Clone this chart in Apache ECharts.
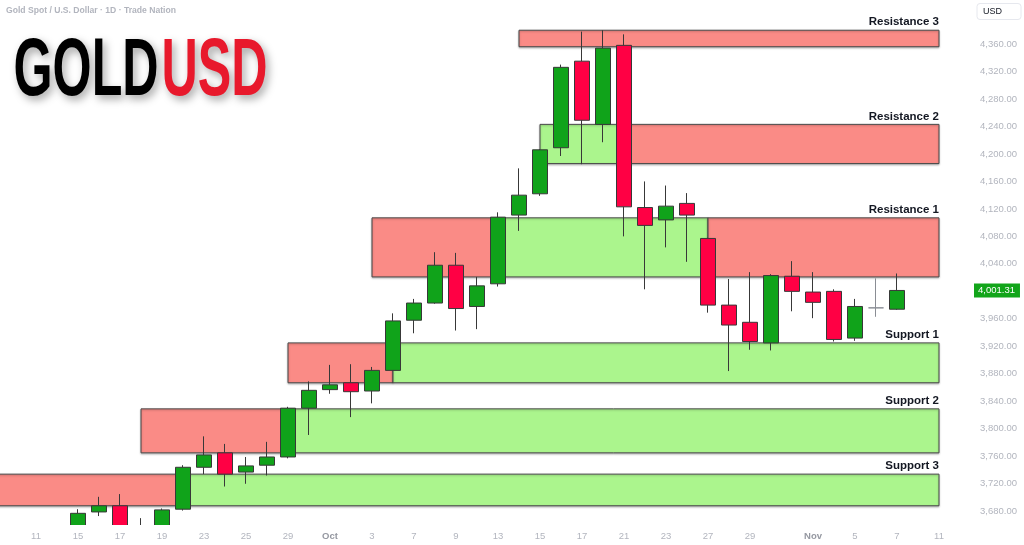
<!DOCTYPE html>
<html>
<head>
<meta charset="utf-8">
<script src="https://cdn.jsdelivr.net/npm/echarts@6/dist/echarts.min.js"></script>
<style>
html,body{margin:0;padding:0;background:#fff;}
#chart{width:1024px;height:545px;}
</style>
</head>
<body>
<div id="chart"></div>
<script>
// ---------- data ----------
const dates = [
  '2025-09-09','2025-09-10','2025-09-11','2025-09-12',
  '2025-09-15','2025-09-16','2025-09-17','2025-09-18','2025-09-19',
  '2025-09-22','2025-09-23','2025-09-24','2025-09-25','2025-09-26',
  '2025-09-29','2025-09-30','2025-10-01','2025-10-02','2025-10-03',
  '2025-10-06','2025-10-07','2025-10-08','2025-10-09','2025-10-10',
  '2025-10-13','2025-10-14','2025-10-15','2025-10-16','2025-10-17',
  '2025-10-20','2025-10-21','2025-10-22','2025-10-23','2025-10-24',
  '2025-10-27','2025-10-28','2025-10-29','2025-10-30','2025-10-31',
  '2025-11-03','2025-11-04','2025-11-05','2025-11-06','2025-11-07',
  '2025-11-10','2025-11-11'
];
const opens  = [null,null,null,null, 3642,3679,3688,3652,3643, 3683,3744,3765,3737,3747, 3759,3830,3857,3867,3855, 3885,3958,3983,4038,3978, 4011,4111,4142,4209,4335, 4243,4358,4122,4104,4128, 4077,3980,3955,3925,4022, 3999,4000,3932,3976,3974, null,null];
const closes = [null,null,null,null, 3677,3688,3646,3644,3682, 3744,3762,3734,3746,3759, 3830,3856,3864,3854,3885, 3957,3983,4038,3975,4008, 4108,4140,4206,4326,4249, 4354,4123,4096,4124,4111, 3980,3951,3927,4023,4000, 3984,3930,3978,3976,4001.31, null,null];
const lows   = [null,null,null,null, 3634,3673,3630,3628,3636, 3681,3734,3716,3720,3732, 3757,3791,3851,3817,3837, 3884,3939,3982,3943,3945, 4007,4088,4139,4197,4185, 4217,4080,4003,4064,4043, 3969,3884,3915,3914,3971, 3961,3927,3928,3963,3973, null,null];
const highs  = [null,null,null,null, 3683,3701,3705,3670,3684, 3747,3789,3778,3759,3781, 3832,3869,3893,3894,3890, 3968,3989,4057,4056,4021, 4115,4179,4207,4330,4378, 4380,4374,4160,4154,4143, 4078,4018,4028,4025,4044, 4028,4003,3989,4019,4026, null,null];
const lastPrice = 4001.31;

const xLabelDates = ['2025-09-11','2025-09-15','2025-09-17','2025-09-19','2025-09-23','2025-09-25','2025-09-29','2025-10-01','2025-10-03','2025-10-07','2025-10-09','2025-10-13','2025-10-15','2025-10-17','2025-10-21','2025-10-23','2025-10-27','2025-10-29','2025-11-03','2025-11-05','2025-11-07','2025-11-11'];
const xLabelTexts = ['11','15','17','19','23','25','29','Oct','3','7','9','13','15','17','21','23','27','29','Nov','5','7','11'];
const yTickValues = [3680,3720,3760,3800,3840,3880,3920,3960,4000,4040,4080,4120,4160,4200,4240,4280,4320,4360];

// zones: price band, breakpoints (dates) and kind of each segment
const zoneNames  = ['Resistance 3','Resistance 2','Resistance 1','Support 1','Support 2','Support 3'];
const zoneHighs  = [4380, 4243, 4107, 3925, 3829, 3734];
const zoneLows   = [4356, 4186, 4021, 3867, 3765, 3688];
const zoneBreaks = [
  ['2025-10-14','2025-11-11'],
  ['2025-10-15','2025-10-21','2025-11-11'],
  ['2025-10-03','2025-10-13','2025-10-27','2025-11-11'],
  ['2025-09-29','2025-10-06','2025-11-11'],
  ['2025-09-18','2025-09-29','2025-11-11'],
  ['2025-09-09','2025-09-22','2025-11-11']
];
const zoneKinds = [
  ['supply'],
  ['demand','supply'],
  ['supply','demand','supply'],
  ['supply','demand'],
  ['supply','demand'],
  ['supply','demand']
];

// ---------- build ----------
const UP = '#10a31a', DOWN = '#ff0044';
const candleData = dates.map((d, i) => {
  if (opens[i] == null) return '-';
  const item = { value: [opens[i], closes[i], lows[i], highs[i]] };
  if (opens[i] === closes[i]) item.itemStyle = { color: '#8a8d94', color0: '#8a8d94', borderColor: '#8a8d94', borderColor0: '#8a8d94' };
  return item;
});

const zoneData = [];
zoneBreaks.forEach((br, z) => {
  for (let k = 0; k < br.length - 1; k++) {
    zoneData.push([dates.indexOf(br[k]), dates.indexOf(br[k + 1]), zoneLows[z], zoneHighs[z],
      zoneKinds[z][k] === 'supply' ? 1 : 0, z, k === br.length - 2 ? 1 : 0]);
  }
});

const labelMap = {};
xLabelDates.forEach((d, i) => { labelMap[d] = xLabelTexts[i]; });

function fmtPrice(v) {
  return v.toLocaleString('en-US', { minimumFractionDigits: 2, maximumFractionDigits: 2 });
}

const chart = echarts.init(document.getElementById('chart'), null, { renderer: 'canvas' });

const option = {
  animation: false,
  backgroundColor: '#ffffff',
  grid: { left: -16.5, right: 74.5, top: 0, bottom: 20, containLabel: false, outerBoundsMode: 'none' },
  xAxis: {
    type: 'category',
    z: 100,
    data: dates,
    boundaryGap: true,
    axisLine: { show: false },
    axisTick: { show: false },
    splitLine: { show: false },
    axisLabel: {
      interval: (idx, val) => labelMap[val] !== undefined,
      formatter: (val) => {
        const t = labelMap[val];
        if (t === undefined) return '';
        return (t === 'Oct' || t === 'Nov') ? '{m|' + t + '}' : t;
      },
      color: '#b2b5be',
      fontSize: 9.5,
      fontFamily: 'Liberation Sans',
      margin: 6,
      rich: { m: { color: '#9598a1', fontSize: 9.5, fontWeight: 'bold', fontFamily: 'Liberation Sans' } }
    }
  },
  yAxis: {
    type: 'value',
    position: 'right',
    z: 100,
    min: 3660,
    max: 4424,
    interval: 20,
    scale: true,
    axisLine: { show: false },
    axisTick: { show: false },
    splitLine: { show: false },
    axisLabel: {
      align: 'right',
      margin: 67.5,
      color: '#b2b5be',
      fontSize: 9.5,
      fontFamily: 'Liberation Sans',
      formatter: (v) => yTickValues.indexOf(v) >= 0 ? fmtPrice(v) : ''
    }
  },
  series: [
    {
      type: 'custom',
      name: 'zones',
      z: 1,
      silent: true,
      data: zoneData,
      encode: { x: [0, 1], y: [2, 3] },
      renderItem: (params, api) => {
        const p0 = api.coord([api.value(0), api.value(3)]);
        const p1 = api.coord([api.value(1), api.value(2)]);
        const supply = api.value(4) === 1;
        const children = [{
          type: 'rect',
          shape: { x: p0[0], y: p0[1], width: p1[0] - p0[0], height: p1[1] - p0[1] },
          style: {
            fill: supply ? '#fa8b86' : '#abf58d',
            stroke: '#4a4a4a',
            lineWidth: 1,
            shadowBlur: 2,
            shadowColor: 'rgba(0,0,0,0.25)',
            shadowOffsetY: 1
          }
        }];
        if (api.value(6) === 1) {
          children.push({
            type: 'text',
            x: p1[0],
            y: p0[1] - 2,
            style: {
              text: zoneNames[api.value(5)],
              align: 'right',
              verticalAlign: 'bottom',
              fill: '#131722',
              font: 'bold 11.5px "Liberation Sans"'
            }
          });
        }
        return { type: 'group', children: children };
      }
    },
    {
      type: 'candlestick',
      name: 'XAUUSD',
      z: 3,
      barWidth: 15,
      clip: false,
      data: candleData,
      itemStyle: {
        color: UP,
        color0: DOWN,
        borderColor: '#383838',
        borderColor0: '#383838',
        borderWidth: 1
      },
      markLine: {
        silent: true,
        symbol: ['none', 'none'],
        z: 120,
        lineStyle: { width: 0, color: 'rgba(0,0,0,0)', type: 'solid' },
        data: [{ yAxis: lastPrice }],
        label: {
          show: true,
          position: 'end',
          distance: 24.5,
          formatter: () => fmtPrice(lastPrice),
          color: '#ffffff',
          backgroundColor: '#12a51a',
          padding: [2, 5, 2, 4],
          fontSize: 9.5,
          fontFamily: 'Liberation Sans'
        }
      }
    }
  ],
  graphic: [
    {
      type: 'rect', x: 0, y: 525, z: 50,
      shape: { width: 1024, height: 20 },
      style: { fill: '#ffffff' }
    },
    {
      type: 'text', x: 6, y: 11,
      style: { text: 'Gold Spot / U.S. Dollar · 1D · Trade Nation', fill: '#b2b5be',
        font: 'bold 8.6px "Liberation Sans"', verticalAlign: 'middle', align: 'left' }
    },
    {
      type: 'text', x: 13.5, y: 72.8, scaleX: 0.62,
      style: { text: 'GOLD', fill: '#000000', font: 'bold 81px "Liberation Sans"', verticalAlign: 'middle', align: 'left',
        textShadowColor: 'rgba(0,0,0,0.35)', textShadowBlur: 8, textShadowOffsetX: 3, textShadowOffsetY: 4 }
    },
    {
      type: 'text', x: 161.5, y: 72.8, scaleX: 0.62,
      style: { text: 'USD', fill: '#e8192c', font: 'bold 81px "Liberation Sans"', verticalAlign: 'middle', align: 'left',
        textShadowColor: 'rgba(0,0,0,0.35)', textShadowBlur: 8, textShadowOffsetX: 3, textShadowOffsetY: 4 }
    },
    {
      type: 'rect', x: 977, y: 3.5,
      shape: { width: 44, height: 16, r: 3 },
      style: { fill: '#ffffff', stroke: '#e6e8ee', lineWidth: 1 }
    },
    {
      type: 'text', x: 983, y: 11.5,
      style: { text: 'USD', fill: '#131722', font: '9px "Liberation Sans"', verticalAlign: 'middle', align: 'left' }
    }
  ]
};
chart.setOption(option);
</script>
</body>
</html>
